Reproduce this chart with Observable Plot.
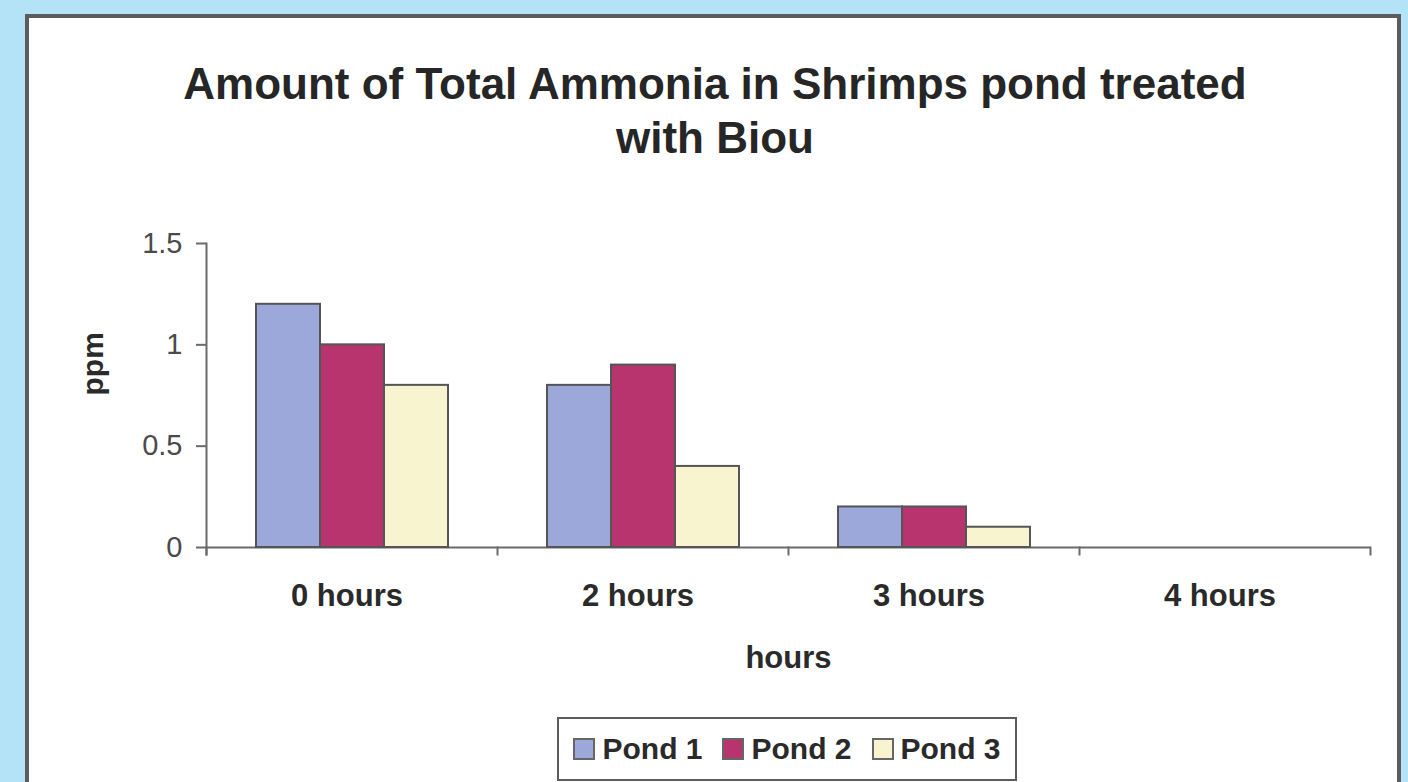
<!DOCTYPE html>
<html><head><meta charset="utf-8">
<script src="https://cdn.jsdelivr.net/npm/d3@7"></script>
<script src="https://cdn.jsdelivr.net/npm/@observablehq/plot@0.6"></script>
<style>
html,body{margin:0;padding:0;}
body{width:1408px;height:782px;overflow:hidden;background:#b4e2f6;position:relative;font-family:"Liberation Sans",Arial,sans-serif;}
#panel{position:absolute;left:25px;top:14px;width:1368px;height:800px;background:#fff;border:4px solid #5c5c5c;}
#title{position:absolute;left:0;top:57px;width:1430px;text-align:center;font-size:44px;line-height:54px;font-weight:bold;color:#262626;}
#chart{position:absolute;left:0;top:0;}
#legend{position:absolute;left:557px;top:717px;width:456px;height:60px;border:2px solid #5c5c5c;display:flex;align-items:center;justify-content:center;gap:20px;font-size:30px;font-weight:bold;color:#2a2a2a;background:#fff;}
#legend .item{display:flex;align-items:center;gap:7px;}
#legend .sw{width:22px;height:22px;border:2px solid #666;box-sizing:border-box;}
</style></head>
<body>
<div id="panel"></div>
<div id="title">Amount of Total Ammonia in Shrimps pond treated<br>with Biou</div>
<div id="chart"></div>
<div id="legend"></div>
<script>
const hours = ["0 hours", "2 hours", "3 hours", "4 hours"];
const ponds = ["Pond 1", "Pond 2", "Pond 3"];
const pond1 = [1.2, 0.8, 0.2, 0];
const pond2 = [1.0, 0.9, 0.2, 0];
const pond3 = [0.8, 0.4, 0.1, 0];
const pondColors = ["#9ba8d9", "#b8346f", "#f8f4d0"];
const yTicks = [0, 0.5, 1, 1.5];

const series = [pond1, pond2, pond3];
const data = [];
hours.forEach((h, i) => ponds.forEach((p, j) => data.push({hour: h, pond: p, value: series[j][i]})));

const W = 1408, H = 700, mL = 205, mR = 38, mT = 243, mB = 153;
const plotH = H - mT - mB;
const axisColor = "#6a6a6a";

const chart = Plot.plot({
  width: W, height: H,
  marginLeft: mL, marginRight: mR, marginTop: mT, marginBottom: mB,
  style: {background: "transparent", fontFamily: "Liberation Sans, Arial, sans-serif", color: "#333"},
  fx: {domain: hours, padding: 0},
  x: {domain: ponds, paddingInner: 0, paddingOuter: 0.74, axis: null},
  y: {domain: [0, 1.5]},
  color: {domain: ponds, range: pondColors},
  marks: [
    Plot.ruleY([0], {stroke: axisColor, strokeWidth: 2}),
    Plot.barY(data, {fx: "hour", x: "pond", y: "value", fill: "pond", stroke: "#555", strokeWidth: 2}),
    Plot.frame({anchor: "left", stroke: axisColor, strokeWidth: 2, insetBottom: -7, facetAnchor: "left"}),
    Plot.frame({anchor: "left", stroke: axisColor, strokeWidth: 2, insetTop: plotH, insetBottom: -7}),
    Plot.frame({anchor: "right", stroke: axisColor, strokeWidth: 2, insetTop: plotH, insetBottom: -7, facetAnchor: "right"}),
    Plot.axisY({ticks: yTicks, tickFormat: "~g", tickSize: 10, tickPadding: 14, fontSize: 29, stroke: axisColor, strokeWidth: 2, label: null, fill: "#4a4a4a"}),
    Plot.text(["ppm"], {frameAnchor: "left", dx: -113, rotate: -90, fontSize: 30, fontWeight: "bold", fill: "#2a2a2a", facetAnchor: "left"}),
    Plot.axisFx({anchor: "bottom", tickSize: 0, tickPadding: 36, dx: -5, fontSize: 31, fontWeight: "bold", fill: "#2a2a2a", label: "hours", labelAnchor: "center", labelOffset: 120, labelArrow: false})
  ]
});
document.getElementById("chart").appendChild(chart);

const legend = document.getElementById("legend");
ponds.forEach((p, j) => {
  const item = document.createElement("div");
  item.className = "item";
  const sw = document.createElement("div");
  sw.className = "sw";
  sw.style.background = pondColors[j];
  const t = document.createElement("span");
  t.textContent = p;
  item.appendChild(sw); item.appendChild(t);
  legend.appendChild(item);
});
</script>
</body></html>
